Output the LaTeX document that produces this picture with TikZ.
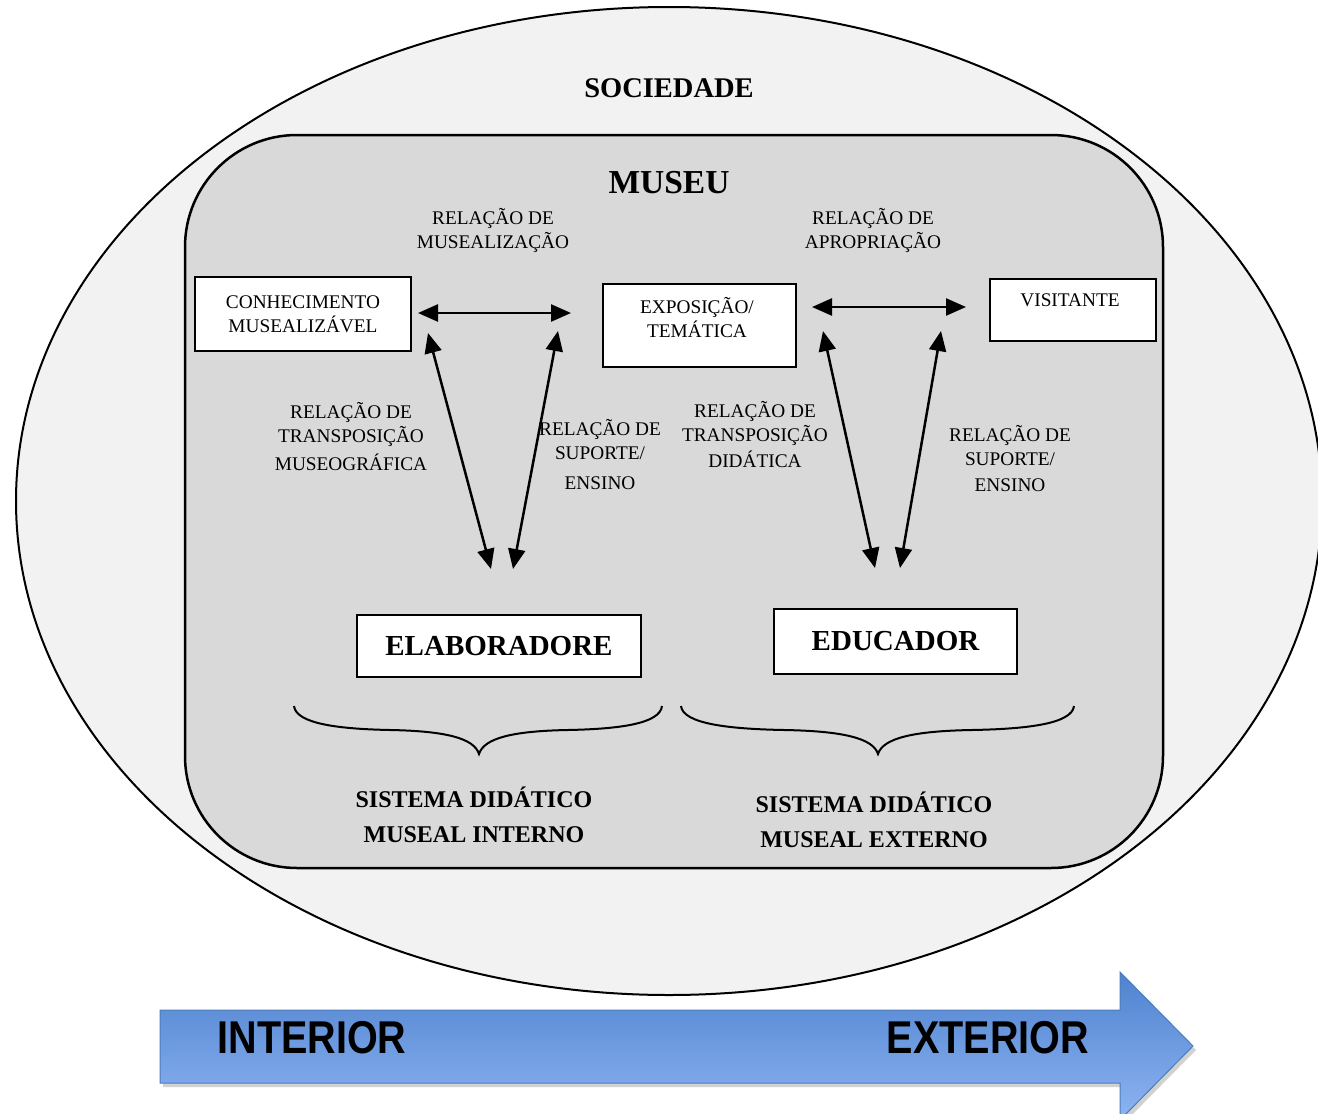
\documentclass[tikz,border=0pt]{standalone}
\usepackage{fontspec}
\setmainfont{Liberation Serif}
\newfontfamily\sansb{Liberation Sans}
\usepackage{graphicx}
\usetikzlibrary{arrows.meta}
\definecolor{soc}{HTML}{F2F2F2}
\definecolor{mus}{HTML}{D9D9D9}
\definecolor{arrtop}{HTML}{4F82CF}
\definecolor{arrbot}{HTML}{8DB4F2}
\definecolor{arredge}{HTML}{4A7EBB}
\tikzset{
 box/.style={draw, fill=white, line width=2pt, inner sep=0pt, align=center, font=\fontsize{19.3}{24}\selectfont},
 lbl/.style={align=center, inner sep=0pt, font=\fontsize{19.3}{24}\selectfont},
 bigbox/.style={draw, fill=white, line width=2pt, inner sep=0pt, font=\fontsize{29}{34}\selectfont\bfseries},
 sys/.style={align=center, inner sep=0pt, font=\fontsize{24}{35}\selectfont\bfseries},
 title/.style={inner sep=0pt, font=\bfseries},
 rel/.style={{Triangle[length=20pt,width=17pt]}-{Triangle[length=20pt,width=17pt]}, line width=2.5pt},
 bracecurve/.style={line width=2pt},
 dirlabel/.style={font=\fontsize{46}{50}\selectfont\sansb\bfseries, inner sep=0pt}
}
\begin{document}
\begin{tikzpicture}[x=1pt,y=-1pt]
\useasboundingbox (0,0) rectangle (1318,1114);
% society ellipse
\draw[line width=2pt, fill=soc] (669,501) ellipse [x radius=653pt, y radius=494pt];
\node[title, font=\fontsize{28.5}{30}\selectfont\bfseries] (soc) at (669,88) {SOCIEDADE};
% museum
\draw[line width=2.5pt, fill=mus, rounded corners=112pt] (185,135) rectangle (1163,868);
\node[title, font=\fontsize{33.5}{36}\selectfont\bfseries] (mus) at (669,183) {MUSEU};
% boxes
\node[box, minimum width=216pt, minimum height=74pt] (con) at (303,314) {CONHECIMENTO\\MUSEALIZÁVEL};
\node[box, minimum width=193pt, minimum height=83pt] (exp) at (699.5,325.5) {};
\node[lbl] (exptxt) at (697,318) {EXPOSIÇÃO/\\TEMÁTICA};
\node[box, minimum width=166pt, minimum height=62pt] (vis) at (1073,310) {};
\node[lbl] (vistxt) at (1070,300) {VISITANTE};
\node[bigbox, minimum width=284pt, minimum height=62pt] (ela) at (499,646) {ELABORADORE};
\node[bigbox, minimum width=243pt, minimum height=65pt] (edu) at (895.5,641.5) {EDUCADOR};
% relation labels
\node[lbl] (rmus) at (493,230) {RELAÇÃO DE\\MUSEALIZAÇÃO};
\node[lbl] (rapr) at (873,230) {RELAÇÃO DE\\APROPRIAÇÃO};
\node[lbl] (rtm) at (351,437) {RELAÇÃO DE\\TRANSPOSIÇÃO\\[4pt]MUSEOGRÁFICA};
\node[lbl] (rse1) at (600,455) {RELAÇÃO DE\\SUPORTE/\\[6pt]ENSINO};
\node[lbl] (rtd) at (755,435) {RELAÇÃO DE\\TRANSPOSIÇÃO\\[2pt]DIDÁTICA};
\node[lbl] (rse2) at (1010,459) {RELAÇÃO DE\\SUPORTE/\\[2pt]ENSINO};
% arrow end points
\coordinate (a1l) at (418,313); \coordinate (a1r) at (571,313);
\coordinate (a2l) at (812,307); \coordinate (a2r) at (966,307);
\coordinate (d1t) at (428,333); \coordinate (d1b) at (491,569);
\coordinate (d2t) at (558,331); \coordinate (d2b) at (513,569);
\coordinate (d3t) at (823,331); \coordinate (d3b) at (875,568);
\coordinate (d4t) at (941,331); \coordinate (d4b) at (900,568);
\draw[rel] (a1l) -- (a1r);
\draw[rel] (a2l) -- (a2r);
\draw[rel] (d1t) -- (d1b);
\draw[rel] (d2t) -- (d2b);
\draw[rel] (d3t) -- (d3b);
\draw[rel] (d4t) -- (d4b);
% braces
\draw[bracecurve] (294,706) .. controls (296,724) and (340,729) .. (390,730)
  .. controls (445,731) and (474,738) .. (479,754)
  .. controls (484,738) and (513,731) .. (568,730)
  .. controls (618,729) and (660,724) .. (662,706);
\draw[bracecurve] (681,706) .. controls (683,724) and (730,729) .. (784,730)
  .. controls (842,731) and (873,738) .. (878,754)
  .. controls (883,738) and (914,731) .. (972,730)
  .. controls (1026,729) and (1072,724) .. (1074,706);
\node[sys] (sdi) at (474,815) {SISTEMA DIDÁTICO\\MUSEAL INTERNO};
\node[sys] (sde) at (874,820) {SISTEMA DIDÁTICO\\MUSEAL EXTERNO};
% big arrow
\fill[black, opacity=0.18] (163,1014) -- (1123,1014) -- (1123,976) -- (1196,1050) -- (1123,1124) -- (1123,1087) -- (163,1087) -- cycle;
\shade[top color=arrtop, bottom color=arrbot, draw=arredge, line width=1pt]
  (160,1010) -- (1120,1010) -- (1120,972) -- (1193,1046) -- (1120,1120) -- (1120,1083) -- (160,1083) -- cycle;
\node[dirlabel] (int) at (312,1038) {\scalebox{0.86}[1]{INTERIOR}};
\node[dirlabel] (ext) at (988,1038) {\scalebox{0.86}[1]{EXTERIOR}};
\end{tikzpicture}
\end{document}
